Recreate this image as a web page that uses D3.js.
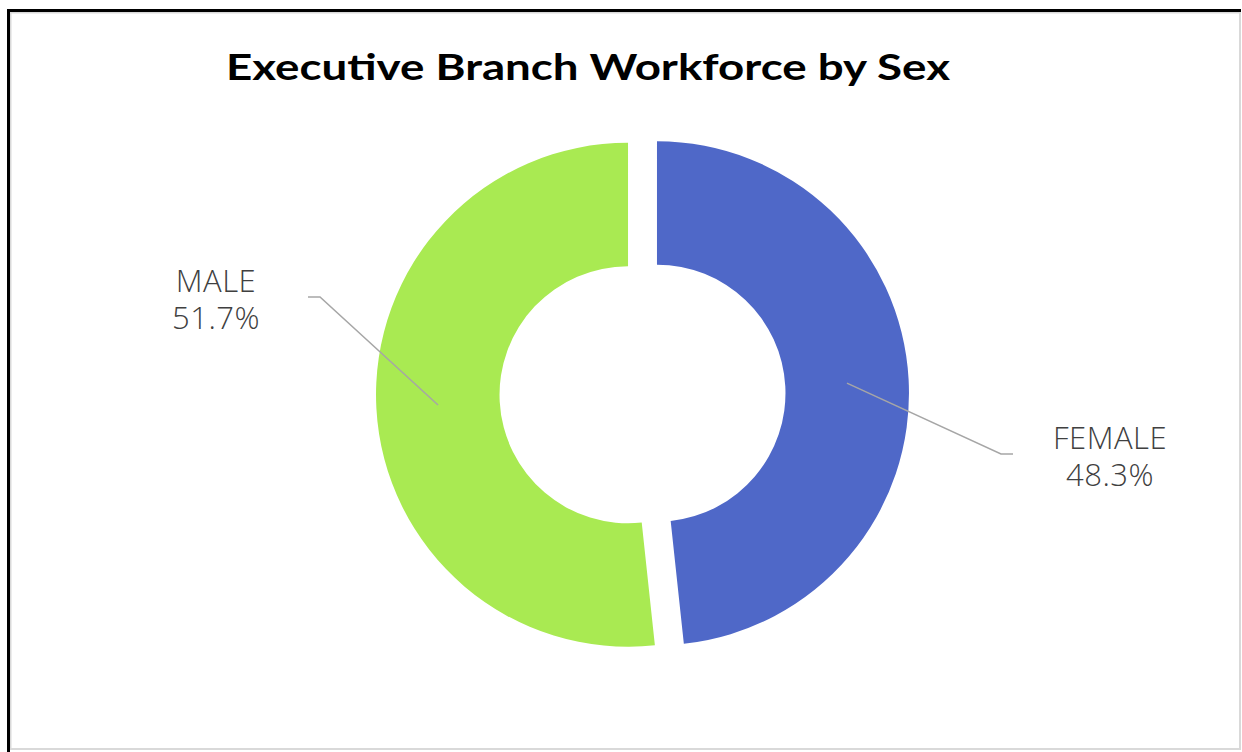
<!DOCTYPE html>
<html>
<head>
<meta charset="utf-8">
<script src="https://cdn.jsdelivr.net/npm/d3@7"></script>
<style>
  html, body { margin: 0; padding: 0; background: #fff; }
  svg { display: block; }
</style>
</head>
<body>
<script>
// Workforce split by sex
const categories = ["FEMALE", "MALE"];
const shares = [48.3, 51.7];
const valueLabels = ["48.3%", "51.7%"];
const sliceColors = ["#4F68C8", "#A9EA52"];
const chartTitle = "Executive Branch Workforce by Sex";

const W = 1242, H = 752;
const svg = d3.select("body").append("svg").attr("width", W).attr("height", H);

// frame: light inner edge plus heavy top/left rule
svg.append("rect").attr("x", 10.5).attr("y", 12.5).attr("width", 1229.5).attr("height", 736.5)
  .attr("fill", "#fff").attr("stroke", "#D9D9D9").attr("stroke-width", 2);
svg.append("line").attr("x1", 7).attr("x2", 1241).attr("y1", 10.5).attr("y2", 10.5)
  .attr("stroke", "#000").attr("stroke-width", 3);
svg.append("line").attr("x1", 8.5).attr("x2", 8.5).attr("y1", 9).attr("y2", H)
  .attr("stroke", "#000").attr("stroke-width", 3);

svg.append("text")
  .attr("x", 226).attr("y", 80)
  .attr("font-family", "Lato, 'Open Sans', sans-serif")
  .attr("font-weight", 700).attr("font-size", 36)
  .attr("fill", "#000")
  .attr("textLength", 724).attr("lengthAdjust", "spacingAndGlyphs")
  .text(chartTitle);

const cx = 642.5, cy = 394;
const outerR = 252, innerR = 128.5, explode = 14.5;

const pie = d3.pie().sort(null).value(d => d.v);
const arcs = pie(categories.map((c, i) => ({ c, v: shares[i], label: valueLabels[i], color: sliceColors[i] })));
const arc = d3.arc().innerRadius(innerR).outerRadius(outerR);

const g = svg.append("g").attr("transform", `translate(${cx},${cy})`);

const offset = d => {
  const a = (d.startAngle + d.endAngle) / 2;
  return [Math.sin(a) * explode, -Math.cos(a) * explode];
};

g.selectAll("path.slice").data(arcs).join("path")
  .attr("class", "slice")
  .attr("transform", d => `translate(${offset(d)})`)
  .attr("d", arc)
  .attr("fill", d => d.data.color);

// label placement: elbow point and text anchor, relative to chart centre
const labelLayout = {
  FEMALE: { elbow: [358.5, 60], end: [370.5, 60], text: [467.5, 54.5] },
  MALE:   { elbow: [-322.5, -97], end: [-334.5, -97], text: [-426.5, -102] }
};

arcs.forEach(d => {
  const [ox, oy] = offset(d);
  const c = arc.centroid(d);
  const L = labelLayout[d.data.c];
  g.append("polyline")
    .attr("points", [[c[0] + ox, c[1] + oy], L.elbow, L.end].map(p => p.join(",")).join(" "))
    .attr("fill", "none").attr("stroke", "#A6A6A6").attr("stroke-width", 1.5);
  const t = g.append("text")
    .attr("text-anchor", "middle")
    .attr("font-family", "'Open Sans', Lato, sans-serif")
    .attr("font-weight", 300).attr("font-size", 31)
    .attr("letter-spacing", 0.5)
    .attr("fill", "#404040");
  t.append("tspan").attr("x", L.text[0]).attr("y", L.text[1]).text(d.data.c);
  t.append("tspan").attr("x", L.text[0]).attr("y", L.text[1] + 37).text(d.data.label);
});
</script>
</body>
</html>
